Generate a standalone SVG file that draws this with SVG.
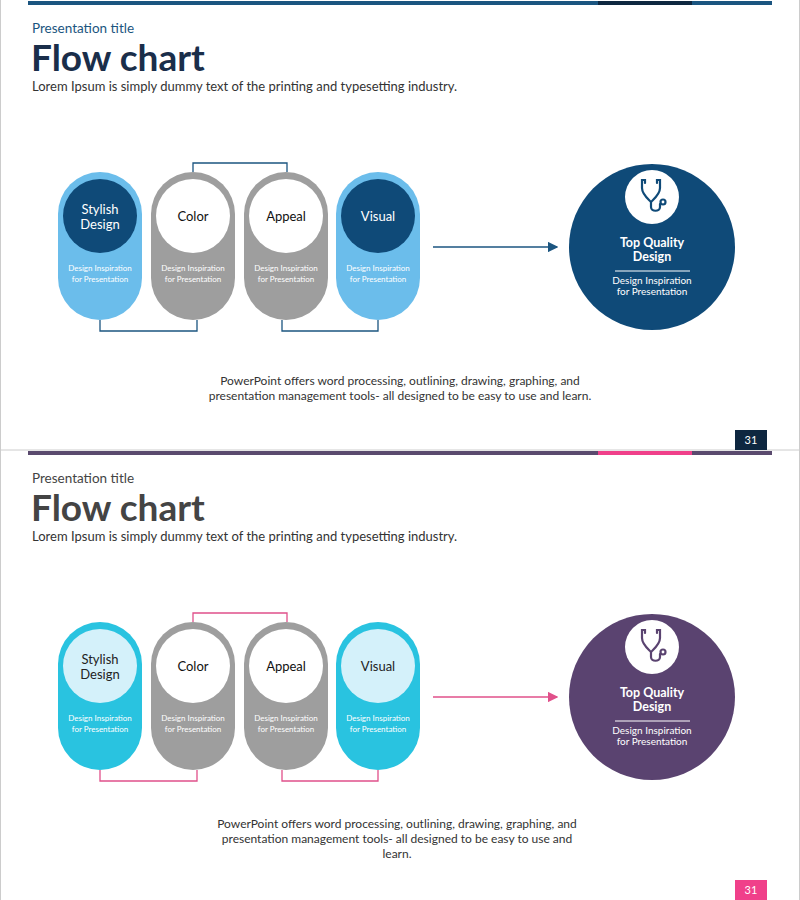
<svg xmlns="http://www.w3.org/2000/svg" width="800" height="900" viewBox="0 0 800 900">
<style>
text{font-family:Lato,"Open Sans","Liberation Sans",sans-serif}
.pt{font-size:13.5px}
.h{font-size:37px;font-weight:bold}
.sub{font-size:13px;fill:#333}
.lbl{font-size:13px;text-anchor:middle}
.sm{font-size:8px;fill:#fff;text-anchor:middle}
.body{font-size:12px;fill:#333;text-anchor:middle}
.bt{font-size:12.5px;font-weight:bold;fill:#fff;text-anchor:middle}
.bs{font-size:10px;fill:#fff;text-anchor:middle}
.con{fill:none;stroke-width:1.3}
.ico{fill:none;stroke-width:2.2;stroke-linecap:round}
</style>
<defs>
<marker id="a1" markerWidth="8" markerHeight="8" refX="7" refY="4" orient="auto"><path d="M0,0L8,4L0,8z" fill="#1b5580"/></marker>
<marker id="a2" markerWidth="8" markerHeight="8" refX="7" refY="4" orient="auto"><path d="M0,0L8,4L0,8z" fill="#e0508a"/></marker>
</defs>
<rect width="800" height="900" fill="#fff"/>
<line x1="0" y1="450" x2="800" y2="450" stroke="#ccc"/>
<rect x="0" y="0" width="1" height="900" fill="#ccc"/><rect x="799" y="0" width="1" height="900" fill="#ccc"/>

<g id="slide1">
<rect x="28" y="1" width="744" height="4" fill="#1b5580"/>
<rect x="598" y="1" width="94" height="4" fill="#0e2740"/>
<text x="32" y="33" class="pt" fill="#1b5580">Presentation title</text>
<text x="31" y="71" class="h" fill="#1a2e4a">Flow chart</text>
<text x="32" y="91" class="sub">Lorem Ipsum is simply dummy text of the printing and typesetting industry.</text>
<g id="connectors1">
<polyline class="con" stroke="#1b5580" points="193,172 193,163 287,163 287,172"/>
<polyline class="con" stroke="#1b5580" points="100,320 100,331 197,331 197,320"/>
<polyline class="con" stroke="#1b5580" points="282,320 282,331 378,331 378,320"/>
<line class="con" stroke="#1b5580" x1="433" y1="247" x2="557" y2="247" marker-end="url(#a1)"/>
</g>
<g id="n1-stylish"><rect x="58" y="172" width="84" height="148" rx="42" fill="#6bbdeb"/><circle cx="100" cy="216" r="37" fill="#0f4a78"/><text x="100" y="214" class="lbl" fill="#fff">Stylish</text><text x="100" y="229" class="lbl" fill="#fff">Design</text><text x="100" y="271" class="sm">Design Inspiration</text><text x="100" y="282" class="sm">for Presentation</text></g>
<g id="n1-color"><rect x="151" y="172" width="84" height="148" rx="42" fill="#9e9e9e"/><circle cx="193" cy="216" r="37" fill="#fff"/><text x="193" y="221" class="lbl" fill="#111">Color</text><text x="193" y="271" class="sm">Design Inspiration</text><text x="193" y="282" class="sm">for Presentation</text></g>
<g id="n1-appeal"><rect x="244" y="172" width="84" height="148" rx="42" fill="#9e9e9e"/><circle cx="286" cy="216" r="37" fill="#fff"/><text x="286" y="221" class="lbl" fill="#111">Appeal</text><text x="286" y="271" class="sm">Design Inspiration</text><text x="286" y="282" class="sm">for Presentation</text></g>
<g id="n1-visual"><rect x="336" y="172" width="84" height="148" rx="42" fill="#6bbdeb"/><circle cx="378" cy="216" r="37" fill="#0f4a78"/><text x="378" y="221" class="lbl" fill="#fff">Visual</text><text x="378" y="271" class="sm">Design Inspiration</text><text x="378" y="282" class="sm">for Presentation</text></g>
<g id="n1-top"><circle cx="652" cy="247" r="83" fill="#0f4a78"/><circle cx="652" cy="197" r="27" fill="#fff"/>
<g class="ico" stroke="#0f4a78"><path d="M645,183v-3h-3v8c0,6 5,10 9,14c4,-4 9,-8 9,-14v-8h-3v3"/><path d="M651,202v5c0,5 9,5 9,0v-3"/><circle cx="663" cy="202" r="2.5"/></g>
<text x="652" y="247" class="bt">Top Quality</text><text x="652" y="261" class="bt">Design</text>
<line x1="615" y1="271" x2="690" y2="271" stroke="#fff" stroke-width="1"/>
<text x="652" y="284" class="bs">Design Inspiration</text><text x="652" y="295" class="bs">for Presentation</text></g>
<text x="400" y="385" class="body">PowerPoint offers word processing, outlining, drawing, graphing, and</text>
<text x="400" y="400" class="body">presentation management tools- all designed to be easy to use and learn.</text>
<rect x="735" y="430" width="32" height="20" fill="#0e2740"/><text x="751" y="444" font-size="11" fill="#fff" text-anchor="middle">31</text>
</g>

<g id="slide2">
<rect x="28" y="451" width="744" height="4" fill="#5a4a6e"/>
<rect x="598" y="451" width="94" height="4" fill="#f0408a"/>
<text x="32" y="483" class="pt" fill="#444">Presentation title</text>
<text x="31" y="521" class="h" fill="#444">Flow chart</text>
<text x="32" y="541" class="sub">Lorem Ipsum is simply dummy text of the printing and typesetting industry.</text>
<g id="connectors2">
<polyline class="con" stroke="#e0508a" points="193,622 193,613 287,613 287,622"/>
<polyline class="con" stroke="#e0508a" points="100,770 100,781 197,781 197,770"/>
<polyline class="con" stroke="#e0508a" points="282,770 282,781 378,781 378,770"/>
<line class="con" stroke="#e0508a" x1="433" y1="697" x2="557" y2="697" marker-end="url(#a2)"/>
</g>
<g id="n2-stylish"><rect x="58" y="622" width="84" height="148" rx="42" fill="#29c3e0"/><circle cx="100" cy="666" r="37" fill="#d4f1fa"/><text x="100" y="664" class="lbl" fill="#222">Stylish</text><text x="100" y="679" class="lbl" fill="#222">Design</text><text x="100" y="721" class="sm">Design Inspiration</text><text x="100" y="732" class="sm">for Presentation</text></g>
<g id="n2-color"><rect x="151" y="622" width="84" height="148" rx="42" fill="#9e9e9e"/><circle cx="193" cy="666" r="37" fill="#fff"/><text x="193" y="671" class="lbl" fill="#111">Color</text><text x="193" y="721" class="sm">Design Inspiration</text><text x="193" y="732" class="sm">for Presentation</text></g>
<g id="n2-appeal"><rect x="244" y="622" width="84" height="148" rx="42" fill="#9e9e9e"/><circle cx="286" cy="666" r="37" fill="#fff"/><text x="286" y="671" class="lbl" fill="#111">Appeal</text><text x="286" y="721" class="sm">Design Inspiration</text><text x="286" y="732" class="sm">for Presentation</text></g>
<g id="n2-visual"><rect x="336" y="622" width="84" height="148" rx="42" fill="#29c3e0"/><circle cx="378" cy="666" r="37" fill="#d4f1fa"/><text x="378" y="671" class="lbl" fill="#222">Visual</text><text x="378" y="721" class="sm">Design Inspiration</text><text x="378" y="732" class="sm">for Presentation</text></g>
<g id="n2-top"><circle cx="652" cy="697" r="83" fill="#5a4370"/><circle cx="652" cy="647" r="27" fill="#fff"/>
<g class="ico" stroke="#5a4370"><path d="M645,633v-3h-3v8c0,6 5,10 9,14c4,-4 9,-8 9,-14v-8h-3v3"/><path d="M651,652v5c0,5 9,5 9,0v-3"/><circle cx="663" cy="652" r="2.5"/></g>
<text x="652" y="697" class="bt">Top Quality</text><text x="652" y="711" class="bt">Design</text>
<line x1="615" y1="721" x2="690" y2="721" stroke="#fff" stroke-width="1"/>
<text x="652" y="734" class="bs">Design Inspiration</text><text x="652" y="745" class="bs">for Presentation</text></g>
<text x="397" y="828" class="body">PowerPoint offers word processing, outlining, drawing, graphing, and</text>
<text x="397" y="843" class="body">presentation management tools- all designed to be easy to use and</text>
<text x="397" y="858" class="body">learn.</text>
<rect x="735" y="880" width="32" height="20" fill="#f0408a"/><text x="751" y="894" font-size="11" fill="#fff" text-anchor="middle">31</text>
</g>
</svg>
